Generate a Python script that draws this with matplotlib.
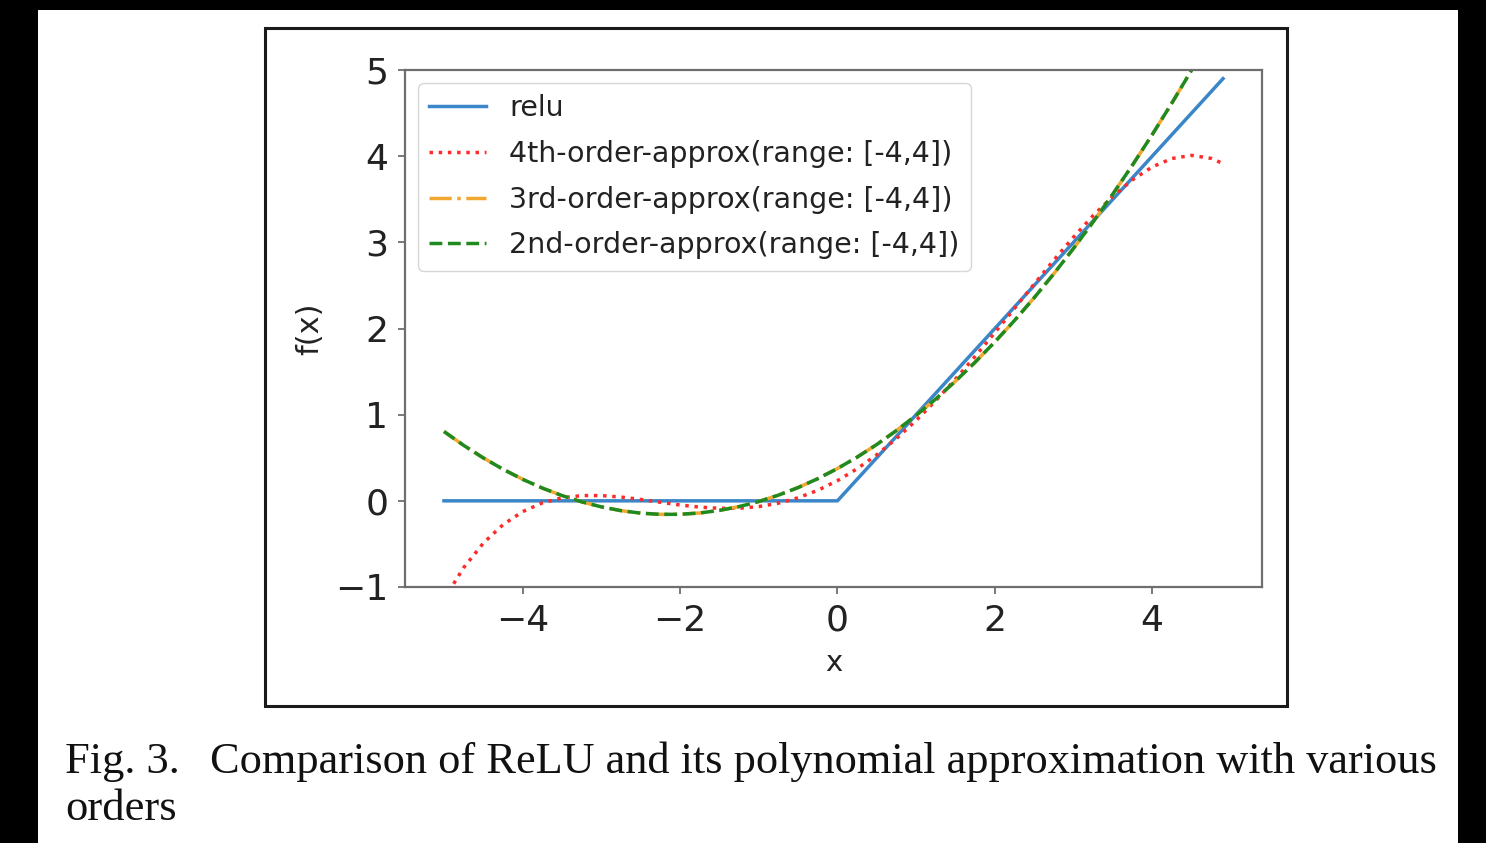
import matplotlib
matplotlib.use("Agg")
import matplotlib.pyplot as plt
from matplotlib.patches import Rectangle

# ---- data ----
x_vals = [-5.0, -4.75, -4.5, -4.25, -4.0, -3.75, -3.5, -3.25, -3.0, -2.75,
          -2.5, -2.25, -2.0, -1.75, -1.5, -1.25, -1.0, -0.75, -0.5, -0.25,
          0.0, 0.25, 0.5, 0.75, 1.0, 1.25, 1.5, 1.75, 2.0, 2.25,
          2.5, 2.75, 3.0, 3.25, 3.5, 3.75, 4.0, 4.25, 4.5, 4.75, 4.9]
relu_vals = [0.0, 0.0, 0.0, 0.0, 0.0, 0.0, 0.0, 0.0, 0.0, 0.0,
             0.0, 0.0, 0.0, 0.0, 0.0, 0.0, 0.0, 0.0, 0.0, 0.0,
             0.0, 0.25, 0.5, 0.75, 1.0, 1.25, 1.5, 1.75, 2.0, 2.25,
             2.5, 2.75, 3.0, 3.25, 3.5, 3.75, 4.0, 4.25, 4.5, 4.75, 4.9]
approx4_vals = [-1.144, -0.776, -0.491, -0.277, -0.125, -0.024, 0.035, 0.061, 0.061, 0.044,
                0.016, -0.017, -0.048, -0.073, -0.087, -0.086, -0.067, -0.027, 0.035, 0.122,
                0.234, 0.372, 0.535, 0.723, 0.933, 1.164, 1.413, 1.677, 1.952, 2.233,
                2.516, 2.794, 3.061, 3.311, 3.535, 3.726, 3.875, 3.973, 4.009, 3.974, 3.914]
approx3_vals = [0.805, 0.644, 0.498, 0.367, 0.250, 0.148, 0.061, -0.012, -0.070, -0.114,
                -0.143, -0.157, -0.156, -0.141, -0.111, -0.067, -0.008, 0.066, 0.154, 0.257,
                0.375, 0.507, 0.654, 0.816, 0.992, 1.183, 1.389, 1.609, 1.844, 2.093,
                2.357, 2.636, 2.930, 3.238, 3.561, 3.898, 4.250, 4.617, 4.998, 5.394, 5.639]
approx2_vals = [0.805, 0.644, 0.498, 0.367, 0.250, 0.148, 0.061, -0.012, -0.070, -0.114,
                -0.143, -0.157, -0.156, -0.141, -0.111, -0.067, -0.008, 0.066, 0.154, 0.257,
                0.375, 0.507, 0.654, 0.816, 0.992, 1.183, 1.389, 1.609, 1.844, 2.093,
                2.357, 2.636, 2.930, 3.238, 3.561, 3.898, 4.250, 4.617, 4.998, 5.394, 5.639]
labels = ["relu",
          "4th-order-approx(range: [-4,4])",
          "3rd-order-approx(range: [-4,4])",
          "2nd-order-approx(range: [-4,4])"]
y_ticks = [-1, 0, 1, 2, 3, 4, 5]
x_ticks = [-4, -2, 0, 2, 4]
caption_head = "Fig. 3."
caption_line1 = "Comparison of ReLU and its polynomial approximation with various"
caption_line2 = "orders"

W, H = 1486, 843
fig = plt.figure(figsize=(W / 100, H / 100), dpi=100)
fig.patch.set_facecolor("white")

def fx(px):
    return px / W

def fy(py):
    return 1 - py / H

# black screen borders
for (x0, y0, x1, y1) in [(0, 0, W, 10), (0, 0, 38, H), (1458, 0, W, H)]:
    fig.add_artist(Rectangle((fx(x0), fy(y1)), fx(x1) - fx(x0), fy(y0) - fy(y1),
                             transform=fig.transFigure, facecolor="black",
                             edgecolor="none", zorder=0))

# figure box border
fig.add_artist(Rectangle((fx(265), fy(706)), fx(1287) - fx(265), fy(28) - fy(706),
                         transform=fig.transFigure, facecolor="none",
                         edgecolor="#1a1a1a", linewidth=2.2, zorder=5))

ax = fig.add_axes([fx(405), fy(587), fx(1262) - fx(405), fy(70) - fy(587)])
lw = 2.5
ax.plot(x_vals, relu_vals, color="#3a86c8", linestyle="-", linewidth=lw, label=labels[0])
ax.plot(x_vals, approx4_vals, color="#ff2a2a", linestyle=":", linewidth=lw, label=labels[1])
ax.plot(x_vals, approx3_vals, color="#f0a830", linestyle="-.", linewidth=lw, label=labels[2])
ax.plot(x_vals, approx2_vals, color="#1f8a1f", linestyle="--", linewidth=lw, label=labels[3])
ax.set_ylim(-1, 5)
ax.set_yticks(y_ticks)
ax.set_xticks(x_ticks)
for s in ax.spines.values():
    s.set_color("#6e6e6e")
    s.set_linewidth(1.6)
ax.tick_params(axis="both", length=5, width=1.3, color="#6e6e6e", pad=7,
               labelsize=26, labelcolor="#222222")
ax.set_xlabel("x", fontsize=21, color="#222222", labelpad=8)
ax.set_ylabel("f(x)", fontsize=22, color="#222222", labelpad=8)

leg = ax.legend(loc="upper left", fontsize=20.5, handlelength=2.0,
                labelspacing=0.62, framealpha=0.8, edgecolor="#cccccc",
                borderaxespad=0.45)
for t in leg.get_texts():
    t.set_color("#222222")

# caption
serif = ["Liberation Serif", "DejaVu Serif"]
fig.text(fx(65), fy(762), caption_head, fontsize=32, family=serif,
         color="#111111", ha="left", va="center")
t1 = fig.text(fx(210), fy(762), caption_line1, fontsize=32, family=serif,
              color="#111111", ha="left", va="center")
fig.text(fx(65), fy(809), caption_line2, fontsize=32, family=serif,
         color="#111111", ha="left", va="center")

# stretch first caption line to justified width
fig.canvas.draw()
bb = t1.get_window_extent()
target = 1440 - 210
t1.set_fontsize(32 * target / bb.width)

fig.savefig("out.png", dpi=100, facecolor="white")
